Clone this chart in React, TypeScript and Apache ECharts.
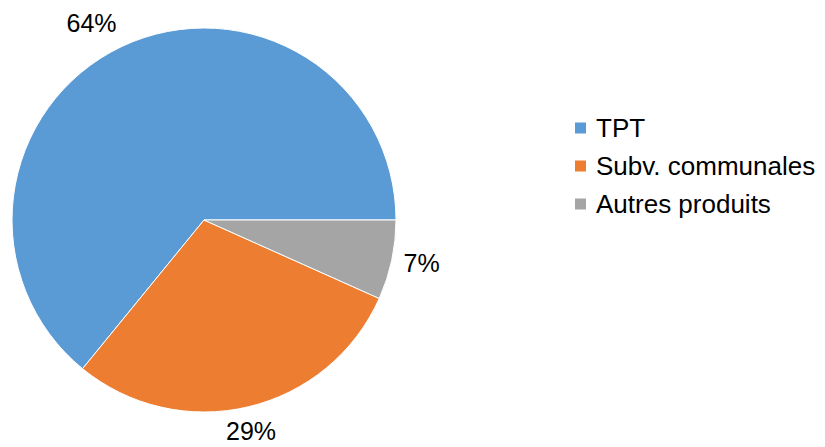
import React, { useEffect, useRef } from "react";
import * as echarts from "echarts";

const categories = ["TPT", "Subv. communales", "Autres produits"];
const values = [64.1, 29.2, 6.7];
const colors = ["#5B9BD5", "#ED7D31", "#A5A5A5"];

const CX = 204;
const CY = 220;
const R = 192;
const FONT = "'Liberation Sans', Arial, sans-serif";

export default function App() {
  const ref = useRef<HTMLDivElement>(null);
  useEffect(() => {
    document.body.style.margin = "0";
    if (!ref.current) return;
    const chart = echarts.init(ref.current, null, { renderer: "svg" });
    const total = values.reduce((a, b) => a + b, 0);
    const midAngles: number[] = [];
    let acc = 0;
    values.forEach((v) => {
      const a0 = (acc / total) * 360;
      acc += v;
      const a1 = (acc / total) * 360;
      midAngles.push(((a0 + a1) / 2) * (Math.PI / 180));
    });
    chart.setOption({
      animation: false,
      backgroundColor: "#ffffff",
      legend: {
        orient: "vertical",
        left: 573,
        top: 115,
        padding: 0,
        itemWidth: 13,
        itemHeight: 13,
        itemGap: 12,
        icon: "rect",
        data: categories,
        textStyle: {
          fontFamily: FONT,
          fontSize: 26,
          color: "#000000",
          padding: [0, 0, 0, 4],
        },
      },
      series: [
        {
          type: "pie",
          center: [CX, CY],
          radius: R,
          startAngle: 0,
          clockwise: false,
          avoidLabelOverlap: false,
          itemStyle: { borderColor: "#ffffff", borderWidth: 1 },
          label: {
            show: true,
            position: "outside",
            fontFamily: FONT,
            fontSize: 25,
            color: "#000000",
            formatter: (p: any) => Math.round(p.percent) + "%",
          },
          labelLine: { show: false },
          labelLayout: (p: any) => {
            const a = midAngles[p.dataIndex];
            const dx = Math.cos(a);
            const dy = -Math.sin(a);
            const ar = R + 12;
            const ax = CX + dx * ar;
            const ay = CY + dy * ar;
            const w = p.labelRect.width;
            const h = p.labelRect.height;
            const fx = Math.abs(dx) > 0.3 ? Math.sign(dx) : 0;
            const fy = Math.abs(dy) > 0.3 ? Math.sign(dy) : 0;
            return {
              x: ax + (fx * w) / 2,
              y: ay + (fy * h) / 2,
              align: "center",
              verticalAlign: "middle",
            };
          },
          data: categories.map((name, i) => ({
            name,
            value: values[i],
            itemStyle: { color: colors[i] },
          })),
        },
      ],
    });
    return () => chart.dispose();
  }, []);
  return <div ref={ref} style={{ width: 825, height: 447 }} />;
}
